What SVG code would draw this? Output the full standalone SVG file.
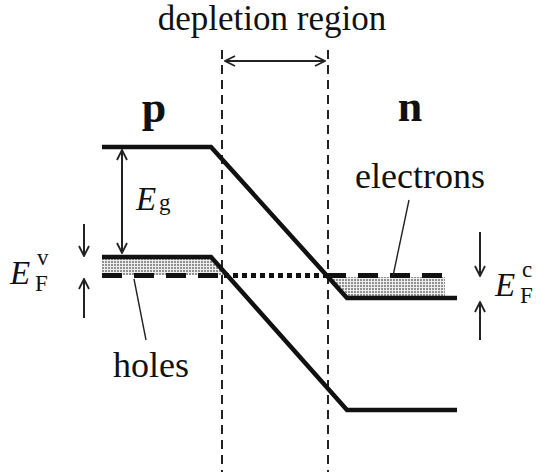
<svg xmlns="http://www.w3.org/2000/svg" width="541" height="472" viewBox="0 0 541 472">
<style>
text{font-family:"Liberation Serif","Times New Roman",serif;fill:#111}
.band{stroke:#111;stroke-width:4.5;fill:none;stroke-linejoin:miter}
.vdash{stroke:#222;stroke-width:2;stroke-dasharray:9 6;fill:none}
.arr{stroke:#222;stroke-width:2;fill:none}
.lead{stroke:#222;stroke-width:1.4;fill:none}
.fermi{stroke:#111;stroke-width:5;stroke-dasharray:20 12;fill:none}
.dot{stroke:#111;stroke-width:5;stroke-dasharray:5 4;fill:none}
</style>
<defs>
<pattern id="stip" width="3" height="3" patternUnits="userSpaceOnUse">
<rect width="3" height="3" fill="#eeeeee"/>
<rect x="0" y="0" width="2" height="2" fill="#909090"/>
</pattern>
<marker id="oa" viewBox="0 0 12 12" refX="11" refY="6" markerWidth="12" markerHeight="12" markerUnits="userSpaceOnUse" orient="auto-start-reverse">
<path d="M1,1 L11,6 L1,11" fill="none" stroke="#222" stroke-width="1.8"/>
</marker>
</defs>
<g id="regions">
<line class="vdash" x1="222" y1="50" x2="222" y2="472"/>
<line class="vdash" x1="328" y1="50" x2="328" y2="472"/>
<text x="272" y="30" font-size="35" text-anchor="middle">depletion region</text>
<line class="arr" x1="225" y1="61" x2="325" y2="61" marker-start="url(#oa)" marker-end="url(#oa)"/>
<text x="154" y="122" font-size="44" font-weight="bold" text-anchor="middle">p</text>
<text x="410" y="121" font-size="44" font-weight="bold" text-anchor="middle">n</text>
</g>
<g id="carriers">
<polygon points="102,258 212,258 227,275 102,275" fill="url(#stip)"/>
<polygon points="329,277 445,277 445,297 347,297" fill="url(#stip)"/>
</g>
<g id="bands">
<polyline class="band" points="102,147 211,147 347,298 457,298"/>
<polyline class="band" points="102,257 211,257 347,410 457,410"/>
<line class="fermi" x1="102" y1="275.5" x2="222" y2="275.5"/>
<line class="dot" x1="224" y1="275.5" x2="328" y2="275.5"/>
<line class="fermi" x1="326" y1="275.5" x2="447" y2="275.5"/>
</g>
<g id="labels">
<line class="arr" x1="122" y1="150" x2="122" y2="253" marker-start="url(#oa)" marker-end="url(#oa)"/>
<text x="136" y="210" font-size="33" font-style="italic">E</text>
<text x="159" y="210" font-size="23">g</text>
<line class="arr" x1="84" y1="224" x2="84" y2="256" marker-end="url(#oa)"/>
<line class="arr" x1="84" y1="318" x2="84" y2="279" marker-end="url(#oa)"/>
<text x="10" y="284" font-size="33" font-style="italic">E</text>
<text x="37" y="265" font-size="23">v</text>
<text x="35" y="291" font-size="23">F</text>
<line class="arr" x1="480" y1="232" x2="480" y2="276" marker-end="url(#oa)"/>
<line class="arr" x1="480" y1="340" x2="480" y2="302" marker-end="url(#oa)"/>
<text x="495" y="296" font-size="33" font-style="italic">E</text>
<text x="522" y="277" font-size="23">c</text>
<text x="520" y="303" font-size="23">F</text>
<text x="420" y="188" font-size="36" text-anchor="middle">electrons</text>
<line class="lead" x1="409" y1="200" x2="393" y2="276"/>
<text x="151" y="377" font-size="36" text-anchor="middle">holes</text>
<line class="lead" x1="134" y1="279" x2="146" y2="340"/>
</g>
</svg>
